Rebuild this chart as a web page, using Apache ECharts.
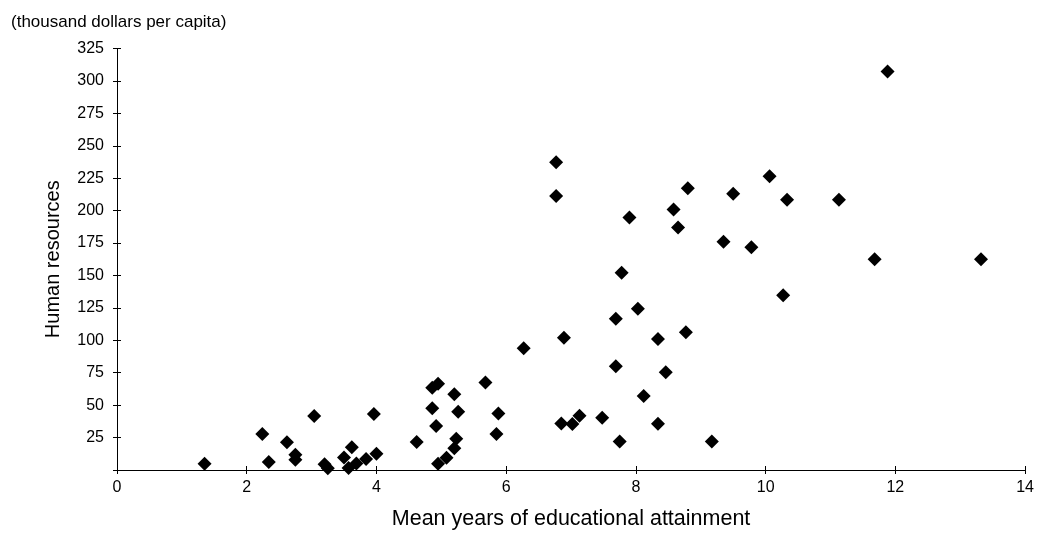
<!DOCTYPE html>
<html>
<head>
<meta charset="utf-8">
<script src="https://cdn.jsdelivr.net/npm/echarts@6/dist/echarts.min.js"></script>
<style>
html,body{margin:0;padding:0;background:#fff;}
#chart{width:1037px;height:535px;}
</style>
</head>
<body>
<div id="chart"></div>
<script>
// Mean years of educational attainment (x)
var educationYears = [1.35,2.24,2.34,2.62,2.75,2.75,3.04,3.20,3.25,3.50,3.57,3.62,3.69,3.84,3.96,4.00,4.62,4.86,4.92,4.86,4.95,4.95,5.08,5.20,5.26,5.23,5.20,5.68,5.88,5.85,6.27,6.89,6.85,7.02,7.13,7.48,7.69,8.03,7.78,7.69,7.75,8.12,8.34,8.46,8.34,8.77,9.17,10.27,6.77,6.77,8.80,9.50,10.06,10.33,11.13,7.90,8.58,8.65,9.35,9.78,11.68,13.32,11.88];
// Human resources, thousand dollars per capita (y)
var humanResources = [4.9,27.8,6.1,21.4,11.8,7.9,41.6,4.5,1.3,9.7,1.5,17.5,5.0,8.4,43.1,12.5,21.6,47.6,33.9,63.4,66.5,4.9,9.5,58.4,44.9,24.0,16.8,67.5,43.6,27.8,93.8,102.0,35.9,35.5,41.8,40.3,116.7,124.3,152.0,80.0,21.9,57.1,101.0,75.4,35.7,106.2,21.9,134.8,237.2,211.2,217.3,213.0,226.5,208.4,208.4,194.6,200.8,187.0,176.0,171.7,162.5,162.5,307.2];

var xTicks = {min: 0, max: 14, interval: 2};
var yTicks = {min: 0, max: 325, interval: 25};
var xTitle = 'Mean years of educational attainment';
var yTitle = 'Human resources';
var unitNote = '(thousand dollars per capita)';

var points = educationYears.map(function (x, i) { return [x, humanResources[i]]; });

var FONT = '"Liberation Sans", Arial, sans-serif';
var chart = echarts.init(document.getElementById('chart'), null, {renderer: 'canvas'});

var baseX = {
  type: 'value', min: xTicks.min, max: xTicks.max, interval: xTicks.interval,
  splitLine: {show: false}
};
var baseY = {
  type: 'value', min: yTicks.min, max: yTicks.max, interval: yTicks.interval,
  splitLine: {show: false}
};

chart.setOption({
  animation: false,
  backgroundColor: '#ffffff',
  title: {
    text: unitNote, left: 6, top: 9,
    textStyle: {fontFamily: FONT, fontSize: 17, fontWeight: 'normal', color: '#000'}
  },
  grid: {left: 117, right: 10, top: 48.5, bottom: 61.3, containLabel: false},
  xAxis: [
    Object.assign({}, baseX, {
      position: 'bottom',
      name: xTitle, nameLocation: 'middle', nameGap: 38,
      nameTextStyle: {fontFamily: FONT, fontSize: 21.5, color: '#000'},
      axisLine: {show: true, lineStyle: {color: '#000', width: 1}},
      axisTick: {show: true, length: 4, lineStyle: {color: '#000'}},
      axisLabel: {show: true, margin: 10, fontFamily: FONT, fontSize: 16, color: '#000'}
    }),
    Object.assign({}, baseX, {
      position: 'bottom',
      axisLine: {show: false},
      axisTick: {show: true, inside: true, length: 4, lineStyle: {color: '#000'}},
      axisLabel: {show: false}
    })
  ],
  yAxis: [
    Object.assign({}, baseY, {
      position: 'left',
      name: yTitle, nameLocation: 'middle', nameGap: 54, nameRotate: 90,
      nameTextStyle: {fontFamily: FONT, fontSize: 20, color: '#000'},
      axisLine: {show: true, lineStyle: {color: '#000', width: 1}},
      axisTick: {show: true, length: 4, lineStyle: {color: '#000'}},
      axisLabel: {
        show: true, margin: 13, fontFamily: FONT, fontSize: 16, color: '#000',
        formatter: function (v) { return v === 0 ? '' : String(v); }
      }
    }),
    Object.assign({}, baseY, {
      position: 'left', offset: 0,
      axisLine: {show: false},
      axisTick: {show: true, inside: true, length: 4, lineStyle: {color: '#000'}},
      axisLabel: {show: false}
    })
  ],
  series: [{
    type: 'scatter',
    xAxisIndex: 0, yAxisIndex: 0,
    symbol: 'diamond', symbolSize: 14,
    itemStyle: {color: '#000000', opacity: 1},
    data: points
  }]
});
</script>
</body>
</html>
